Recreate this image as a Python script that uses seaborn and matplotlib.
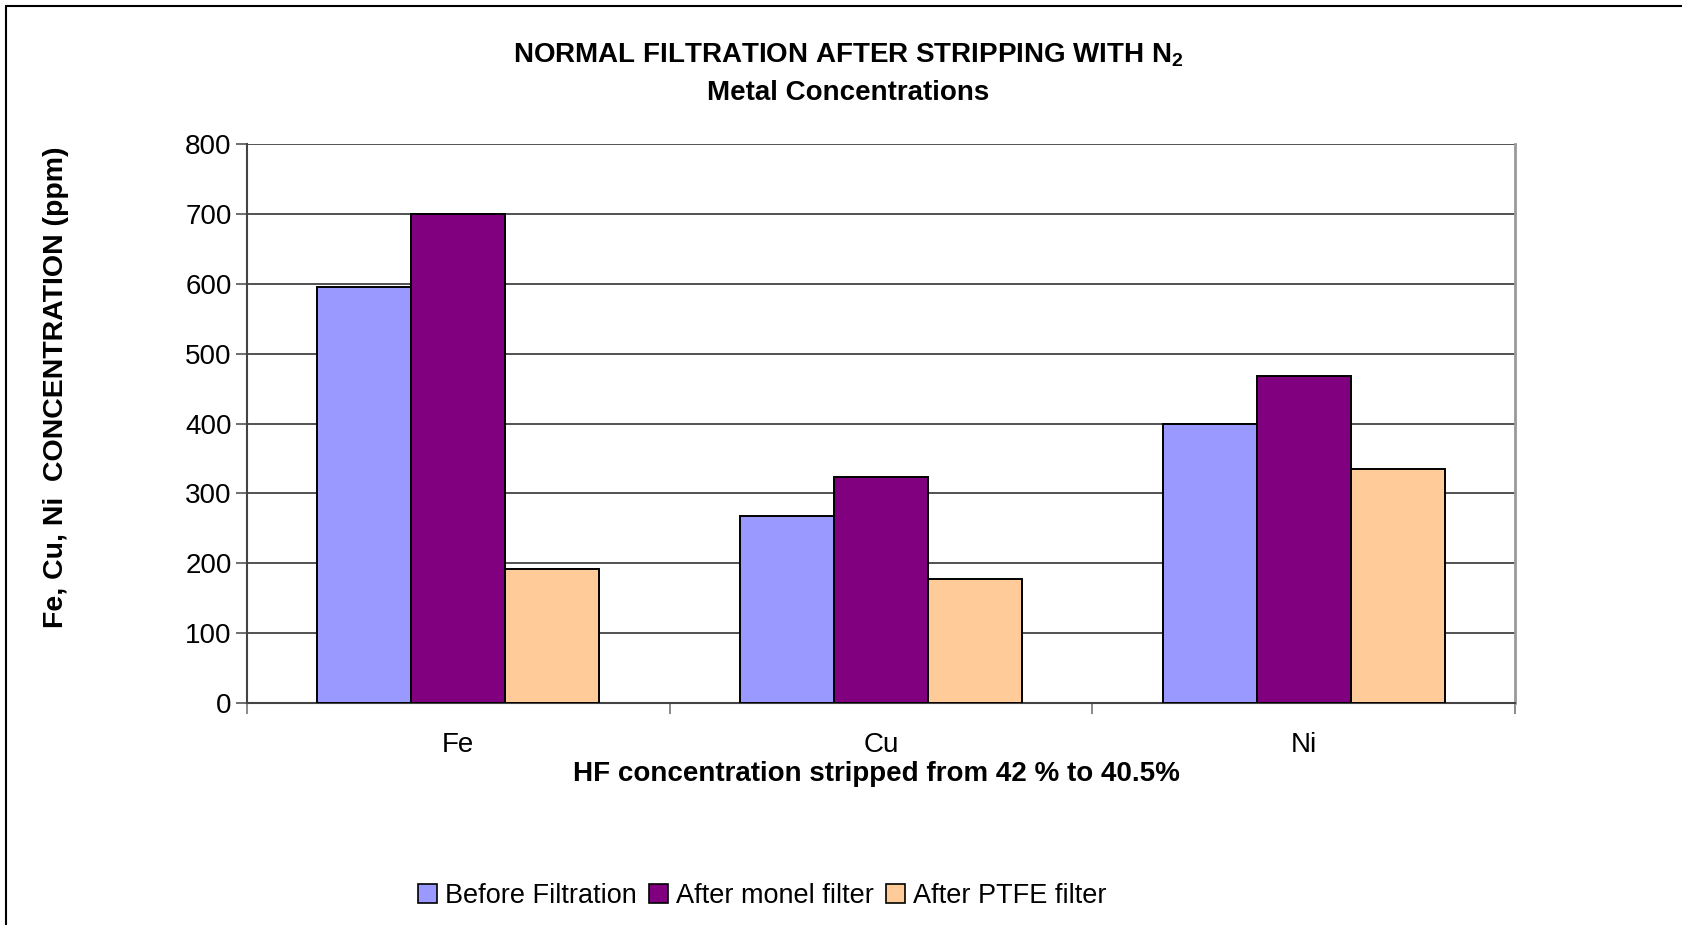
import matplotlib
matplotlib.use("Agg")
import matplotlib.pyplot as plt
from matplotlib.lines import Line2D
import seaborn as sns
import pandas as pd

categories = ["Fe", "Cu", "Ni"]
series = ["Before Filtration", "After monel filter", "After PTFE filter"]
before_filtration = [596, 267, 400]
after_monel = [700, 324, 468]
after_ptfe = [192, 178, 335]
colors = ["#9999FF", "#800080", "#FFCC99"]
yticks = [0, 100, 200, 300, 400, 500, 600, 700, 800]

sns.set_theme(style="white")
plt.rcParams['font.family'] = ['Liberation Sans', 'DejaVu Sans']
plt.rcParams['mathtext.default'] = 'regular'
plt.rcParams['text.color'] = 'black'
plt.rcParams['axes.labelcolor'] = 'black'
plt.rcParams['xtick.labelcolor'] = 'black'
plt.rcParams['ytick.labelcolor'] = 'black'

rows = []
for s, vals in zip(series, [before_filtration, after_monel, after_ptfe]):
    for c, v in zip(categories, vals):
        rows.append({"metal": c, "series": s, "value": v})
df = pd.DataFrame(rows)

fig = plt.figure(figsize=(16.83, 9.25), dpi=100)
ax = fig.add_axes([247/1683, 1-703/925, (1515-247)/1683, (703-144)/925])

sns.barplot(data=df, x="metal", y="value", hue="series", hue_order=series,
            palette=colors, saturation=1, edgecolor="black", linewidth=1.4,
            width=0.667, gap=0, ax=ax, legend=False, zorder=3)

ax.set_ylim(0, 800)
ax.set_xlim(-0.5, 2.5)
ax.set_yticks(yticks)
ax.set_yticklabels([str(t) for t in yticks], fontsize=20)
ax.yaxis.grid(True, color="#333333", linewidth=1.2, zorder=0)
ax.set_axisbelow(True)
ax.tick_params(axis="y", length=8, width=1.2, color="#555555", labelcolor="black",
               pad=3, left=True)
ax.tick_params(axis="x", which="major", length=0, labelsize=20, labelcolor="black", pad=21)
ax.set_xticks([-0.5, 0.5, 1.5, 2.5], minor=True)
ax.tick_params(axis="x", which="minor", length=8, width=1.2, color="#777777", bottom=True)

for side in ["left", "bottom"]:
    ax.spines[side].set_color("#444444")
    ax.spines[side].set_linewidth(1.5)
ax.spines["top"].set_visible(False)
ax.spines["right"].set_color("#999999")
ax.spines["right"].set_linewidth(2)

ax.set_xlabel("")
ax.set_ylabel("")

fig.text(876/1683, 1-774/925, "HF concentration stripped from 42 % to 40.5%",
         ha="center", va="center", fontsize=20, fontweight="bold", color="black")
fig.text(56/1683, 1-387/925, "Fe, Cu, Ni  CONCENTRATION (ppm)", rotation=90,
         ha="center", va="center", fontsize=20.5, fontweight="bold", color="black")

fig.text(848/1683, 1-55/925, r"NORMAL FILTRATION AFTER STRIPPING WITH N$_{2}$",
         ha="center", va="center", fontsize=20, fontweight="bold", color="black")
fig.text(848/1683, 1-93/925, "Metal Concentrations",
         ha="center", va="center", fontsize=20, fontweight="bold", color="black")

handles = [plt.Rectangle((0, 0), 1, 1, facecolor=c, edgecolor="black", linewidth=1.2)
           for c in colors]
leg = fig.legend(handles, series, loc="center", bbox_to_anchor=(762/1683, 1-896/925),
                 ncol=3, frameon=False, fontsize=19.5, handlelength=0.7, handleheight=0.7,
                 handletextpad=0.3, columnspacing=0.45)
for t in leg.get_texts():
    t.set_color("black")

fig.add_artist(Line2D([6/1683, 6/1683], [0, 1-6/925], color="black", linewidth=1.5))
fig.add_artist(Line2D([6/1683, 1], [1-6/925, 1-6/925], color="black", linewidth=1.5))

fig.savefig("out.png", dpi=100, facecolor="white")
